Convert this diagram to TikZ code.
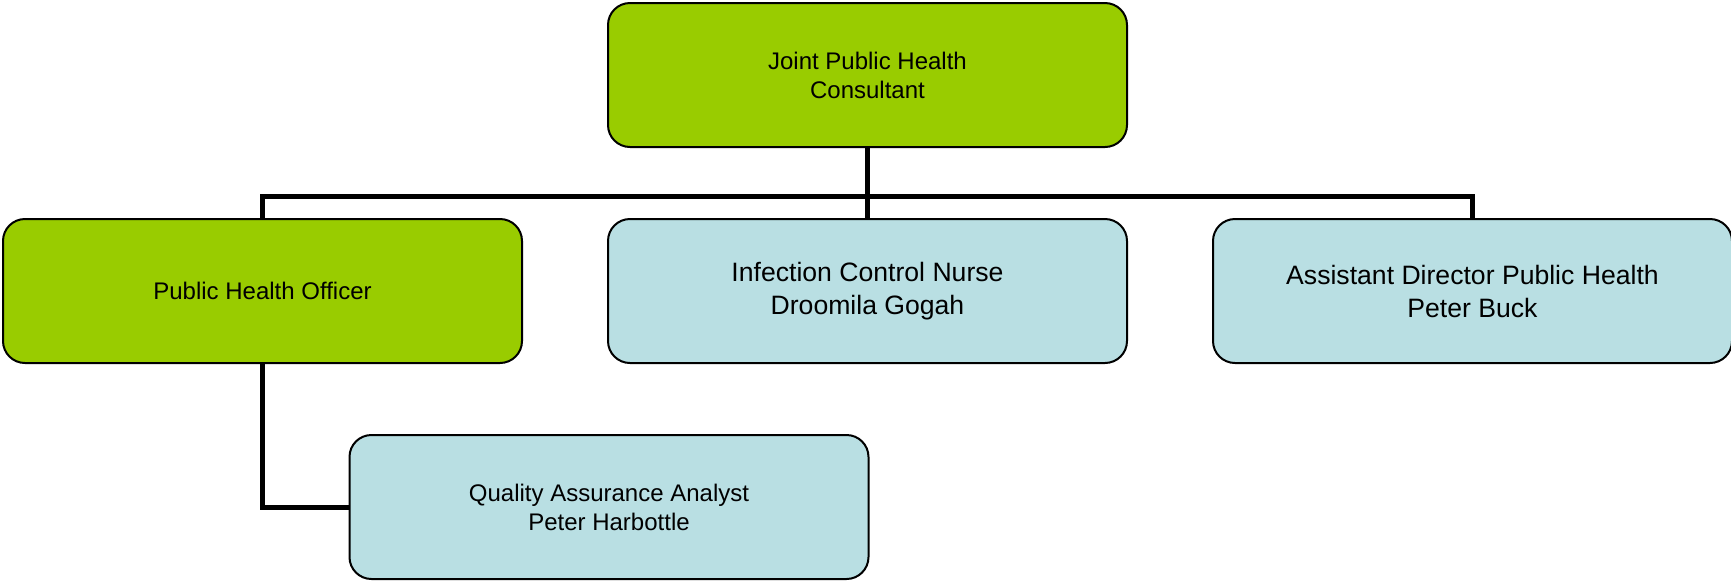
\documentclass[tikz,border=0pt]{standalone}
\usepackage{fontspec}
\setmainfont{Liberation Sans}
\usetikzlibrary{backgrounds}
\definecolor{boxgreen}{RGB}{153,204,0}
\definecolor{boxblue}{RGB}{185,223,227}
\tikzset{
  orgbox/.style={draw=black, line width=1pt, rounded corners=11pt, minimum width=259.5pt, minimum height=72pt, inner sep=0pt, align=center},
  greenbox/.style={orgbox, fill=boxgreen, font=\fontsize{12pt}{14.5pt}\selectfont},
  bluebox/.style={orgbox, fill=boxblue, font=\fontsize{12pt}{14.5pt}\selectfont},
  bigblue/.style={orgbox, fill=boxblue, font=\fontsize{13.3pt}{16.5pt}\selectfont},
  conn/.style={draw=black, line width=2.5pt}
}
\begin{document}
\begin{tikzpicture}[x=0.5pt,y=-0.5pt]
\useasboundingbox (0,0) rectangle (1731,580);
\node[greenbox] (top) at (867.5,75) {Joint Public Health\\Consultant};
\node[greenbox] (pho) at (262.5,291) {Public Health Officer};
\node[bigblue] (icn) at (867.5,291) {Infection Control Nurse\\Droomila Gogah};
\node[bigblue] (adph) at (1472.5,291) {Assistant Director Public Health\\Peter Buck};
\node[bluebox] (qaa) at (609,507) {Quality Assurance Analyst\\Peter Harbottle};
\coordinate (bar) at (0,196.5);
\begin{scope}[on background layer]
\draw[conn] (top.south) -- (icn.north);
\draw[conn] (pho.north) -- (pho.north |- bar) -| (adph.north);
\draw[conn] (pho.south) |- (qaa.west);
\end{scope}
\end{tikzpicture}
\end{document}
